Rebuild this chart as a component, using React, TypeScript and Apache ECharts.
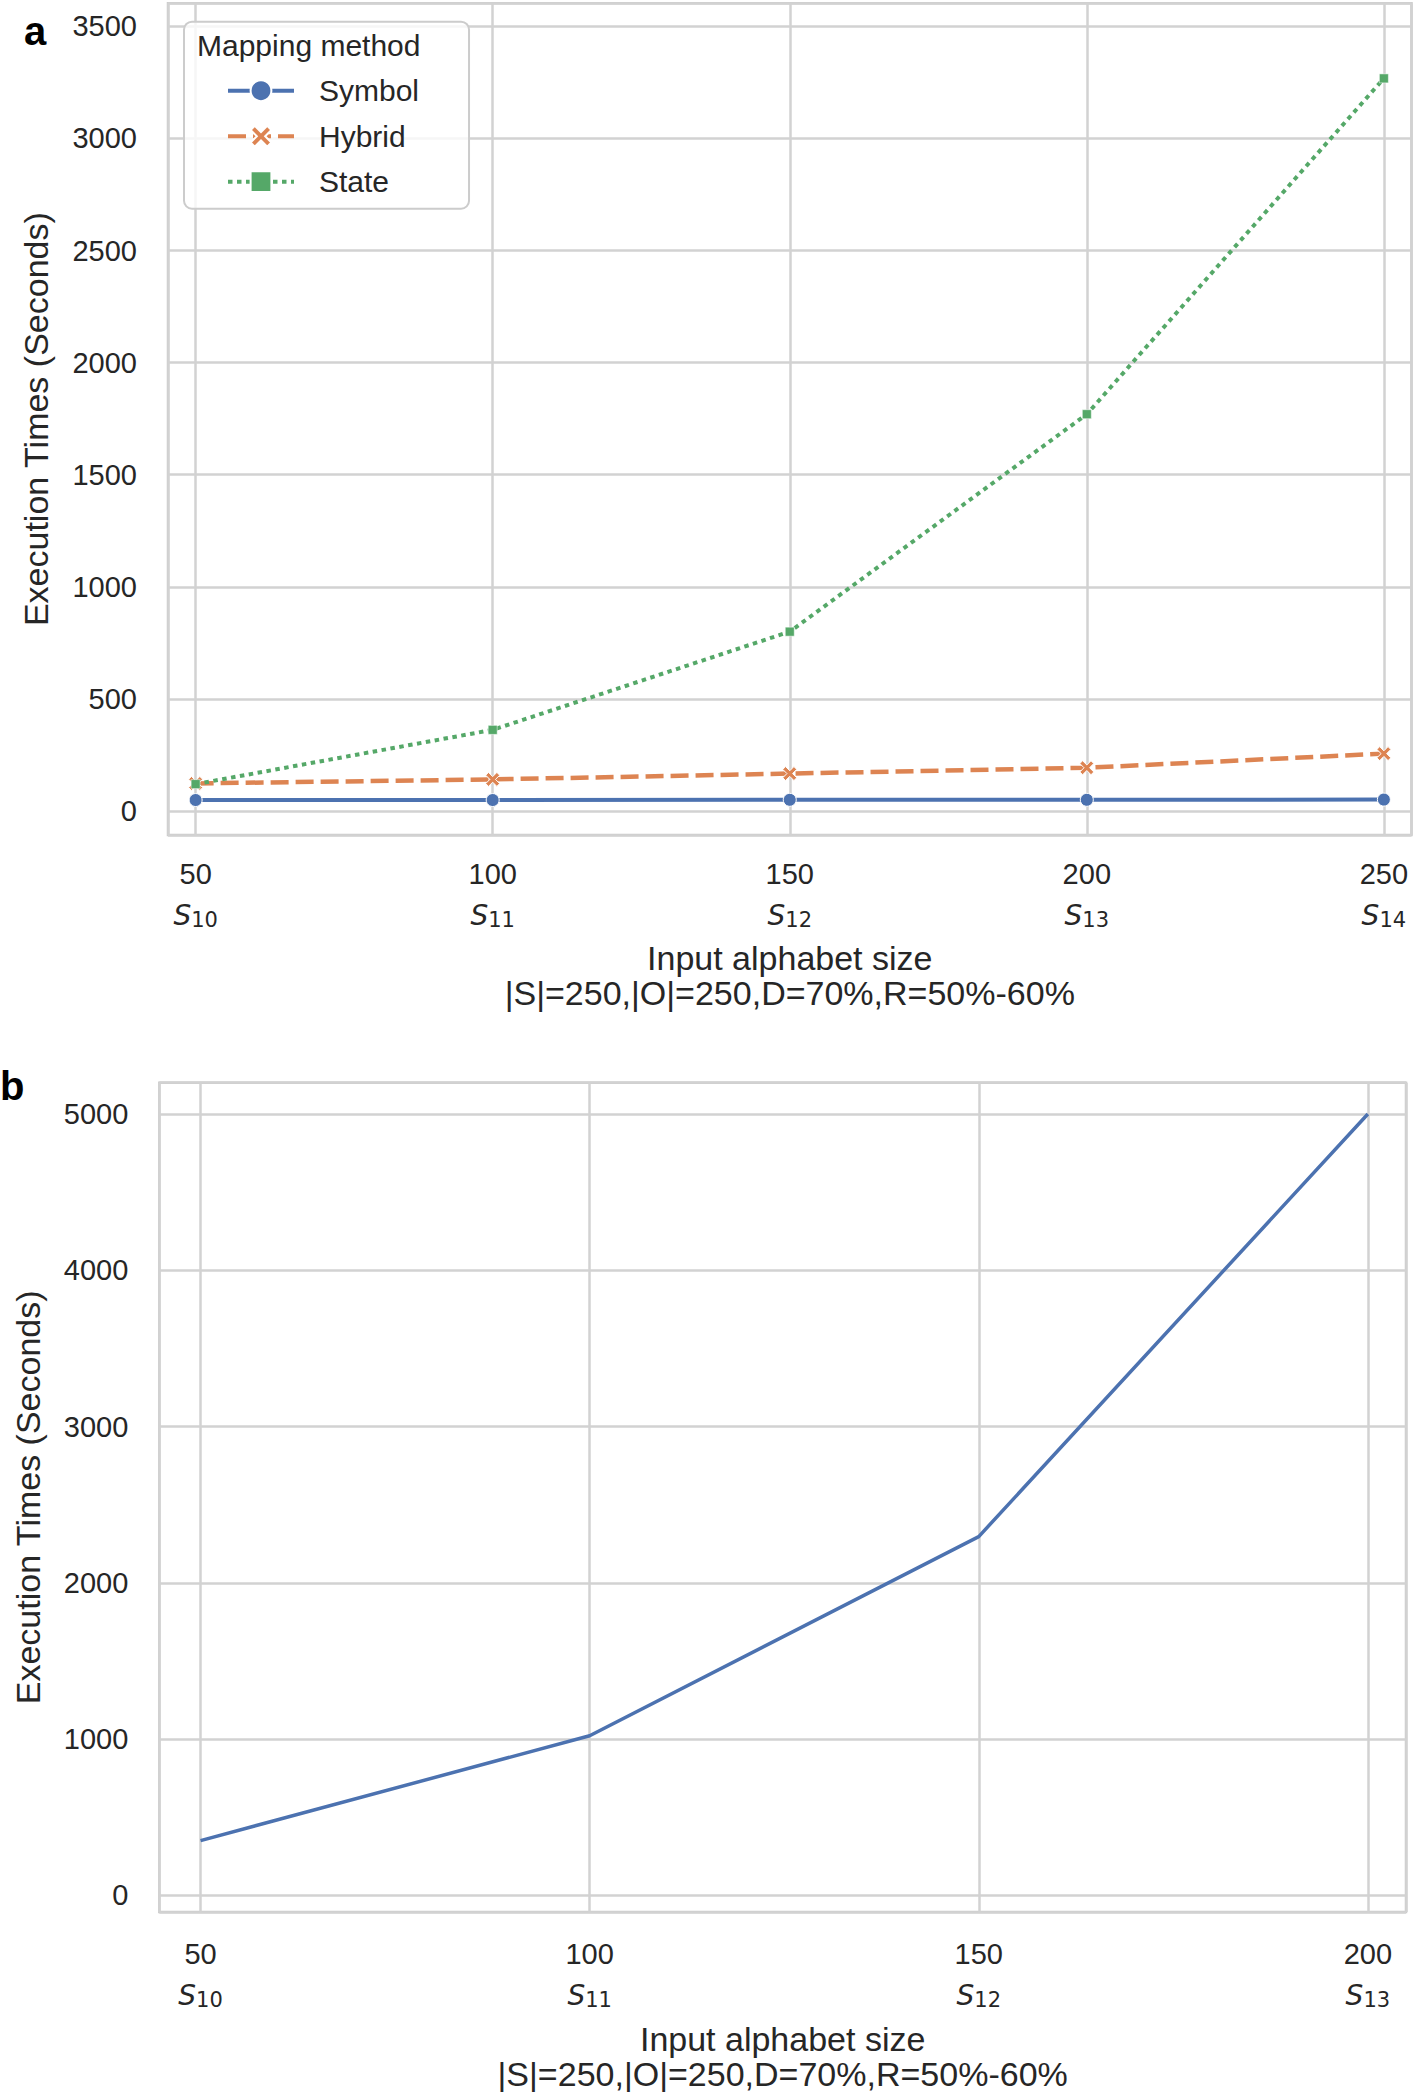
import React, { useEffect, useRef } from "react";
import * as echarts from "echarts";

// ---------- data ----------
const inputSizesA = [50, 100, 150, 200, 250];
const subscriptsA = ["10", "11", "12", "13", "14"];
const symbolTimes = [49, 49, 50, 50, 51];
const hybridTimes = [123, 141, 167, 193, 256];
const stateTimes = [120, 362, 800, 1770, 3268];

const inputSizesB = [50, 100, 150, 200];
const subscriptsB = ["10", "11", "12", "13"];
const timesB = [351, 1022, 2296, 5000];

const seriesNames = ["Symbol", "Hybrid", "State"];
const legendTitle = "Mapping method";
const yTitle = "Execution Times (Seconds)";
const xTitle = "Input alphabet size";
const xSubtitle = "|S|=250,|O|=250,D=70%,R=50%-60%";
const panelLabels = ["a", "b"];

// ---------- style ----------
const FONT = "'Liberation Sans', Arial, sans-serif";
const TEXT = "#262626";
const GRIDC = "#d2d2d2";
const BLUE = "#4c72b0";
const ORANGE = "#dd8452";
const GREEN = "#55a868";
const X_PATH =
  "path://M2,0 L5,3 L8,0 L10,2 L7,5 L10,8 L8,10 L5,7 L2,10 L0,8 L3,5 L0,2 Z";

const pairs = (xs: number[], ys: number[]) => xs.map((x, i) => [x, ys[i]]);

const xLabelFormatter = (sizes: number[], subs: string[]) => (v: number) => {
  const i = sizes.findIndex((s) => Math.abs(s - v) < 1e-6);
  if (i < 0) return "";
  return `{n|${sizes[i]}}\n{s|S}{sub|${subs[i]}}`;
};

const xRich = {
  n: { fontSize: 29, lineHeight: 41.5, fontFamily: FONT, color: TEXT },
  s: {
    fontSize: 28,
    lineHeight: 41.5,
    fontStyle: "italic",
    fontFamily: "'DejaVu Sans', sans-serif",
    color: TEXT,
  },
  sub: {
    fontSize: 21,
    fontFamily: "'DejaVu Sans', sans-serif",
    padding: [10, 0, 0, 0],
    color: TEXT,
  },
};

const nameStyle = { fontSize: 34, lineHeight: 35, color: TEXT, fontFamily: FONT };

function makeXAxis(gridIndex: number, min: number, max: number, sizes: number[], subs: string[], margin: number, nameGap: number) {
  return {
    type: "value",
    gridIndex,
    min,
    max,
    splitNumber: 3,
    axisLine: { show: false },
    axisTick: { show: false },
    splitLine: { show: true, lineStyle: { color: GRIDC, width: 2.5 } },
    axisLabel: {
      margin,
      formatter: xLabelFormatter(sizes, subs),
      rich: xRich,
      hideOverlap: false,
      showMinLabel: true,
      showMaxLabel: true,
    },
    name: `${xTitle}\n${xSubtitle}`,
    nameLocation: "middle",
    nameGap,
    nameTextStyle: nameStyle,
  };
}

function makeYAxis(gridIndex: number, min: number, max: number, step: number, splitNumber: number, nameGap: number) {
  return {
    type: "value",
    gridIndex,
    min,
    max,
    splitNumber,
    axisLine: { show: false },
    axisTick: { show: false },
    splitLine: { show: true, lineStyle: { color: GRIDC, width: 2.5 } },
    axisLabel: {
      margin: 31,
      fontSize: 29,
      color: TEXT,
      fontFamily: FONT,
      formatter: (v: number) => (Math.abs(v % step) < 1e-6 ? String(Math.round(v)) : ""),
      hideOverlap: false,
    },
    name: yTitle,
    nameLocation: "middle",
    nameGap,
    nameTextStyle: nameStyle,
  };
}

export default function App() {
  const ref = useRef<HTMLDivElement>(null);

  useEffect(() => {
    if (!ref.current) return;
    const chart = echarts.init(ref.current, null, { renderer: "svg" });

    const option: any = {
      animation: false,
      backgroundColor: "#ffffff",
      textStyle: { fontFamily: FONT, color: TEXT },
      grid: [
        {
          left: 168,
          top: 3.3,
          width: 1243.5,
          height: 831.7,
          show: true,
          borderColor: "#cccccc",
          borderWidth: 2.5,
          backgroundColor: "transparent",
        },
        {
          left: 159.3,
          top: 1082.7,
          width: 1246.7,
          height: 830.6,
          show: true,
          borderColor: "#cccccc",
          borderWidth: 2.5,
          backgroundColor: "transparent",
        },
      ],
      xAxis: [
        makeXAxis(0, 45.35, 254.65, inputSizesA, subscriptsA, 18, 105),
        makeXAxis(1, 44.7, 204.9, inputSizesB, subscriptsB, 21, 109),
      ],
      yAxis: [
        makeYAxis(0, -107, 3603, 500, 7, 114.5),
        makeYAxis(1, -106, 5200, 1000, 5, 114),
      ],
      legend: {
        orient: "vertical",
        left: 184,
        top: 21.7,
        padding: [54, 50, 12, 42],
        itemWidth: 66,
        itemHeight: 26,
        itemGap: 15.5,
        selectedMode: false,
        backgroundColor: "rgba(255,255,255,0.8)",
        borderColor: "#cccccc",
        borderWidth: 2,
        borderRadius: 8,
        lineStyle: { width: 4 },
        textStyle: {
          fontSize: 30,
          lineHeight: 30,
          color: TEXT,
          fontFamily: FONT,
          padding: [0, 0, 0, 20],
        },
        data: seriesNames,
      },
      graphic: [
        {
          type: "text",
          left: 197,
          top: 30,
          z: 100,
          style: { text: legendTitle, fontSize: 30, fill: TEXT, fontFamily: FONT },
        },
        {
          type: "text",
          x: 24,
          y: 31,
          z: 100,
          style: {
            text: panelLabels[0],
            fontSize: 40,
            fontWeight: "bold",
            fill: "#000",
            fontFamily: FONT,
            textVerticalAlign: "middle",
          },
        },
        {
          type: "text",
          x: 0,
          y: 1086,
          z: 100,
          style: {
            text: panelLabels[1],
            fontSize: 40,
            fontWeight: "bold",
            fill: "#000",
            fontFamily: FONT,
            textVerticalAlign: "middle",
          },
        },
      ],
      series: [
        {
          name: seriesNames[0],
          type: "line",
          xAxisIndex: 0,
          yAxisIndex: 0,
          data: pairs(inputSizesA, symbolTimes),
          symbol: "circle",
          symbolSize: 13,
          showSymbol: true,
          lineStyle: { color: BLUE, width: 4 },
          itemStyle: { color: BLUE, borderColor: "#fff", borderWidth: 1 },
        },
        {
          name: seriesNames[1],
          type: "line",
          xAxisIndex: 0,
          yAxisIndex: 0,
          data: pairs(inputSizesA, hybridTimes),
          symbol: X_PATH,
          symbolSize: 14,
          showSymbol: true,
          lineStyle: { color: ORANGE, width: 4.5, type: [18, 7] },
          itemStyle: { color: ORANGE, borderColor: "#fff", borderWidth: 1 },
        },
        {
          name: seriesNames[2],
          type: "line",
          xAxisIndex: 0,
          yAxisIndex: 0,
          data: pairs(inputSizesA, stateTimes),
          symbol: "rect",
          symbolSize: 9,
          showSymbol: true,
          lineStyle: { color: GREEN, width: 4, type: [4.5, 4.5] },
          itemStyle: { color: GREEN, borderColor: "#fff", borderWidth: 0.5 },
        },
        {
          name: "b",
          type: "line",
          xAxisIndex: 1,
          yAxisIndex: 1,
          data: pairs(inputSizesB, timesB),
          showSymbol: false,
          symbol: "none",
          lineStyle: { color: BLUE, width: 3.5 },
          itemStyle: { color: BLUE },
        },
      ],
    };

    chart.setOption(option);
    return () => chart.dispose();
  }, []);

  return (
    <div
      ref={ref}
      style={{ position: "absolute", left: 0, top: 0, width: 1416, height: 2092, background: "#fff" }}
    />
  );
}
